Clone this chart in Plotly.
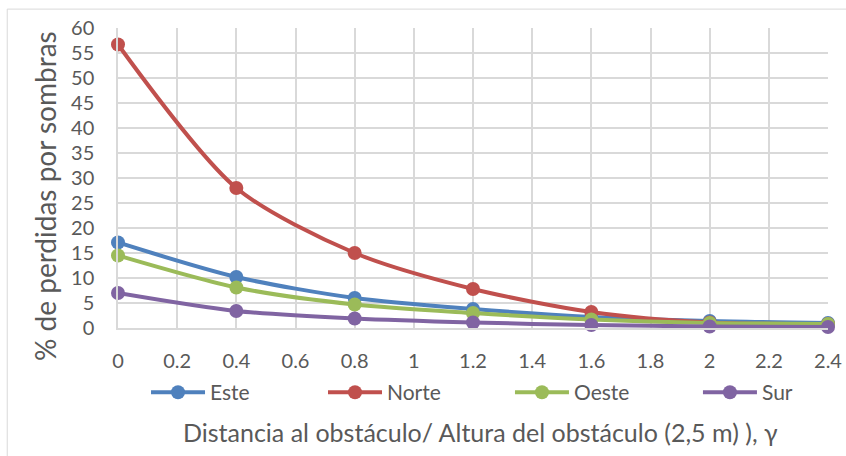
import plotly.graph_objects as go

x_vals = [0, 0.4, 0.8, 1.2, 1.6, 2.0, 2.4]
este = [17.1, 10.2, 6.0, 3.8, 2.2, 1.4, 1.0]
norte = [56.7, 28.0, 15.0, 7.8, 3.2, 1.1, 0.8]
oeste = [14.5, 8.1, 4.7, 3.0, 1.7, 1.0, 0.8]
sur = [7.0, 3.4, 1.9, 1.1, 0.6, 0.3, 0.2]

series = [("Este", este, "#4F81BD"), ("Norte", norte, "#C0504D"),
          ("Oeste", oeste, "#9BBB59"), ("Sur", sur, "#8064A2")]

x_ticks = [0, 0.2, 0.4, 0.6, 0.8, 1, 1.2, 1.4, 1.6, 1.8, 2, 2.2, 2.4]
x_labels = ["0", "0.2", "0.4", "0.6", "0.8", "1", "1.2", "1.4", "1.6", "1.8", "2", "2.2", "2.4"]
y_ticks = list(range(0, 61, 5))

x_title = "Distancia al obstáculo/ Altura del obstáculo (2,5 m) ), γ"
y_title = "% de perdidas por sombras"

font_family = "Lato, Liberation Sans, Arial"
text_col = "#595959"
grid_col = "#D9D9D9"

legend_names = ["legend", "legend2", "legend3", "legend4"]
legend_x = [0.1726, 0.3818, 0.6028, 0.825]

fig = go.Figure()
for (name, vals, col), lg in zip(series, legend_names):
    fig.add_trace(go.Scatter(
        x=x_vals, y=vals, name=name, mode="lines+markers",
        line=dict(color=col, width=4, shape="spline", smoothing=0.8),
        marker=dict(color=col, size=14),
        cliponaxis=False, legend=lg,
    ))

legend_common = dict(xref="container", yref="container", y=0.139, yanchor="middle",
                     xanchor="left", orientation="h", itemwidth=54,
                     bgcolor="rgba(0,0,0,0)", borderwidth=0,
                     font=dict(family=font_family, size=21, color=text_col))
layout_legends = {lg: dict(x=lx, **legend_common) for lg, lx in zip(legend_names, legend_x)}

fig.update_layout(
    template="none",
    width=846, height=456,
    margin=dict(l=118, r=18, t=28, b=128, autoexpand=False),
    paper_bgcolor="white", plot_bgcolor="white",
    font=dict(family=font_family, color=text_col, size=20),
    showlegend=True,
    xaxis=dict(range=[0, 2.4], tickvals=x_ticks, ticktext=x_labels, automargin=False,
               showgrid=True, gridcolor=grid_col, gridwidth=1.5,
               zeroline=False, showline=True, linecolor=grid_col, linewidth=1.5,
               ticks="", ticklabelstandoff=14,
               tickfont=dict(size=20, color=text_col, family=font_family)),
    yaxis=dict(range=[0, 60], tickvals=y_ticks, automargin=False,
               showgrid=True, gridcolor=grid_col, gridwidth=1.5,
               zeroline=False, showline=True, linecolor=grid_col, linewidth=1.5,
               ticks="", ticklabelstandoff=18,
               tickfont=dict(size=20, color=text_col, family=font_family)),
    annotations=[
        dict(text=x_title, xref="paper", yref="paper", x=0.51, y=-0.3457,
             xanchor="center", yanchor="middle", showarrow=False,
             font=dict(size=25, color=text_col, family=font_family)),
        dict(text=y_title, xref="paper", yref="paper", x=-0.1028, y=0.44,
             xanchor="center", yanchor="middle", showarrow=False, textangle=-90,
             font=dict(size=28, color=text_col, family=font_family)),
    ],
    shapes=[dict(type="rect", xref="paper", yref="paper", x0=-0.156, x1=1.2, y0=-0.6, y1=1.063,
                 line=dict(color=grid_col, width=1))],
    **layout_legends,
)

fig.write_html("out.html", config={"displayModeBar": False},
               post_script="document.body.style.margin='0';document.body.style.padding='0';")
